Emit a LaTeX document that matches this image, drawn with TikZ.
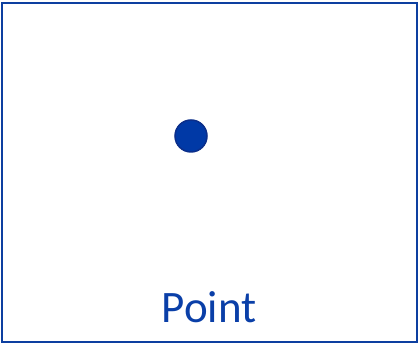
\documentclass[tikz,border=0pt]{standalone}
\usepackage{fontspec}
\setmainfont{Carlito}
\definecolor{frameblue}{HTML}{0D3FA0}
\definecolor{dotfill}{HTML}{0039A6}
\definecolor{dotline}{HTML}{0B2E8A}
\definecolor{textblue}{HTML}{0A3FA8}
\tikzset{
  frame/.style={draw=frameblue, line width=2pt},
  pointdot/.style={circle, fill=dotfill, draw=dotline, line width=1.5pt, minimum size=32pt, inner sep=0pt},
  label/.style={text=textblue, font=\fontsize{45}{54}\selectfont, inner sep=0pt, anchor=base}
}
\begin{document}
\begin{tikzpicture}[x=1pt,y=1pt]
\useasboundingbox (0,0) rectangle (420,344);
\draw[frame] (1.5,2) rectangle (416.5,340.5);
\node[pointdot] (p) at (191,208) {};
\node[label] (t) at (209,21) {Point};
\end{tikzpicture}
\end{document}
